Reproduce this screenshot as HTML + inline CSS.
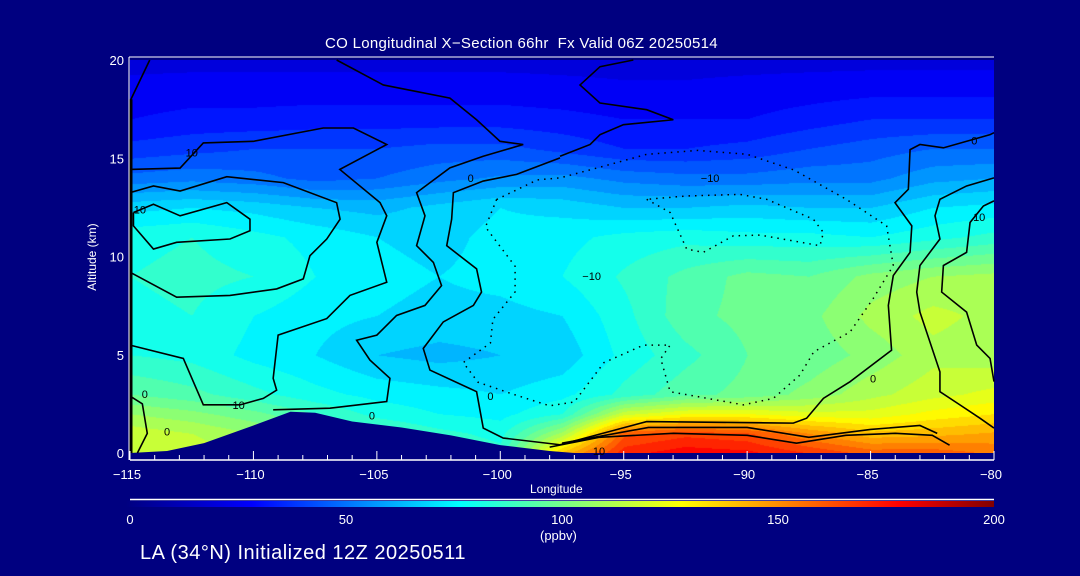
<!DOCTYPE html>
<html><head><meta charset="utf-8">
<style>
html,body{margin:0;padding:0;background:#000080;}
#wrap{position:relative;width:1080px;height:576px;background:#000080;overflow:hidden;font-family:"Liberation Sans",sans-serif;color:#fff;}
.t{position:absolute;white-space:nowrap;color:#fff;}
</style></head>
<body>
<div id="wrap">
<div class="t" style="left:325px;top:35px;font-size:15px;letter-spacing:0.3px;">CO Longitudinal X−Section 66hr&nbsp; Fx Valid 06Z 20250514</div>
<canvas id="field" width="864" height="393" style="position:absolute;left:130px;top:60px;"></canvas>
<svg id="ov" width="1080" height="576" style="position:absolute;left:0;top:0;"></svg>
<div class="t" style="left:42px;top:250px;width:100px;text-align:center;font-size:12px;transform:rotate(-90deg);">Altitude (km)</div>
<div class="t" style="left:530px;top:482px;font-size:12px;">Longitude</div>
<div class="t" style="left:540px;top:528px;font-size:13px;">(ppbv)</div>
<div class="t" style="left:140px;top:542px;font-size:20px;letter-spacing:0.5px;">LA (34°N) Initialized 12Z 20250511</div>
</div>
<script>
const lons=[-115,-112.5,-110,-107.5,-105,-102.5,-100,-97.5,-95,-92.5,-90,-87.5,-85,-82.5,-80];
const alts=[0,1,2,3,5,7,9,11,12.5,14,15.5,17,18.5,20];
const co0=[120,118,112,108,100,90,86,140,172,178,176,168,160,160,155];
const co1=[118,114,108,100,92,86,82,110,160,166,163,150,140,142,145];
const co2=[108,104,98,90,82,78,76,84,118,126,126,122,122,128,132];
const co3=[96,92,86,80,76,74,72,76,86,94,98,104,112,118,122];
const co5=[84,82,76,72,66,64,66,68,80,88,96,98,104,112,110];
const co7=[82,84,78,74,72,70,70,72,82,94,98,100,110,116,112];
const co9=[84,86,84,78,74,72,74,78,85,92,98,96,104,108,110];
const co11=[82,84,80,76,72,70,74,76,80,82,80,80,78,82,86];
const co12=[70,72,70,66,64,68,72,70,66,66,68,66,66,72,74];
const co14=[50,52,50,46,48,52,55,56,52,50,50,52,52,58,60];
const co15=[38,40,42,42,42,44,44,40,36,36,38,42,45,48,48];
const co17=[30,32,32,33,33,33,33,32,30,30,30,33,36,36,36];
const co18=[26,27,27,27,27,27,27,26,25,25,26,27,28,28,28];
const co20=[22,22,22,22,22,22,22,22,22,22,22,22,22,22,22];
const rows=[co0,co1,co2,co3,co5,co7,co9,co11,co12,co14,co15,co17,co18,co20];
const terrain=[[-115,0],[-113.5,0.1],[-112,0.5],[-110,1.4],[-108.5,2.1],[-107.5,2.05],[-106,1.6],[-104,1.3],[-102,0.9],[-100,0.4],[-98,0.1],[-97,0],[-80,0]];
const cbTicks=[0,50,100,150,200];
const xTicks=[-115,-110,-105,-100,-95,-90,-85,-80];
const yTicks=[0,5,10,15,20];
const contoursSolid=[
[[-115,14.43],[-112.97,14.5],[-112.03,15.78],[-110,15.86],[-107.17,16.54],[-105.95,16.54],[-104.6,15.7],[-106.5,14.43],[-104.87,12.74],[-104.6,12.07],[-105,10.72],[-104.6,8.69],[-106.09,8.02],[-107.03,6.84],[-109,6],[-109.2,3.8],[-109.06,3.2],[-109.6,2.78],[-110.54,2.45],[-112.03,2.45],[-112.84,4.81],[-115,5.49]],
[[-115,13.25],[-114.05,13.59],[-112.97,13.33],[-111.08,14.06],[-108.79,13.76],[-106.63,12.74],[-106.49,11.9],[-107.03,10.89],[-107.71,10.04],[-107.98,8.86],[-109.06,8.35],[-110.95,8.02],[-113.11,7.93],[-115,9.2]],
[[-114.86,12.24],[-114.05,12.66],[-112.97,12.07],[-111.08,12.74],[-110.14,11.9],[-110.14,11.31],[-110.95,10.89],[-113.11,10.72],[-114.05,10.38],[-114.86,11.56],[-114.86,12.24]],
[[-106.63,20],[-104.74,18.73],[-102.04,18.06],[-100.96,16.96],[-100.01,15.86],[-99.07,15.7],[-100.69,15.1],[-102.04,14.51],[-103.39,13.25],[-103.05,12.07],[-103.39,10.55],[-102.71,9.7],[-102.38,8.52],[-103.05,7.51],[-104.2,7],[-105,6],[-105.82,5.74],[-105.28,4.73],[-104.47,3.8],[-104.6,2.62],[-106.9,2.28],[-109.2,2.2]],
[[-97.58,15.02],[-99.34,14.18],[-100.69,13.84],[-101.9,13.25],[-101.97,11.9],[-102.17,10.55],[-100.96,9.37],[-100.76,8.19],[-101.09,7.51],[-102.31,6.67],[-103.12,5.32],[-102.85,4.22],[-100.96,3.12],[-100.69,1.27],[-99.88,0.76],[-97.58,0.42],[-94.07,1.6],[-88.13,1.52],[-87.59,1.77],[-86.91,2.78],[-85.83,3.63],[-84.15,5.23],[-84.28,7.51],[-84.08,9.03],[-83.4,10.21],[-83.33,11.56],[-84.01,12.74],[-83.47,13.42],[-83.4,15.44],[-83,15.7],[-82.05,15.53],[-80.16,16.2],[-80,16.3]],
[[-80,14],[-81.11,13.59],[-82.19,12.91],[-82.39,12.07],[-82.19,10.89],[-83,9.54],[-83.13,8.19],[-83,7.17],[-82.19,4.13],[-82.19,3.12],[-81.38,2.45],[-80.57,1.77],[-80,1.27]],
[[-80,12.83],[-80.43,12.57],[-80.97,11.73],[-81.11,10.21],[-82.05,9.54],[-82.12,8.19],[-81.11,7.17],[-80.7,5.49],[-80.16,4.81],[-80,3.63]],
[[-97.58,15.1],[-96.36,15.7],[-95.96,16.2],[-95.01,16.71],[-92.99,16.96],[-94.07,17.47],[-95.96,17.81],[-96.77,18.73],[-95.96,19.66],[-94.61,20]],
[[-98,0.3],[-96,0.8],[-93,1.0],[-90,0.9],[-88,0.5],[-86,0.9],[-84,1.0],[-82.5,0.9],[-81.8,0.4]],
[[-97.5,0.5],[-94,1.3],[-90,1.3],[-87.5,0.8],[-85,1.2],[-83,1.4],[-82.3,1.0]],
[[-115,2.9],[-114.5,2.5],[-114.3,1.0],[-114.7,0]],
[[-115,17.9],[-114.2,20]]
];
const contoursDotted=[
[[-100.15,12.9],[-98.5,13.9],[-97.58,14],[-95.8,14.6],[-94.07,15.2],[-92,15.4],[-90,15.2],[-88.1,14.4],[-85.97,12.9],[-84.35,11.56],[-84.08,9.54],[-84.9,7.85],[-85.83,6.16],[-87.3,5.15],[-87.86,3.97],[-88.94,2.78],[-90.15,2.45],[-93.12,3.12],[-93.5,4.8],[-93.12,5.49],[-94.2,5.49],[-95.8,4.6],[-97,2.6],[-98,2.4],[-99.5,3],[-100.9,3.6],[-101.5,4.6],[-100.4,5.6],[-100.3,6.8],[-99.4,8.2],[-99.4,9.5],[-100.6,11.5],[-100.15,12.9]],
[[-94.07,12.91],[-93.12,12.24],[-92.45,10.38],[-91.78,10.21],[-90.56,11.05],[-89.48,11.09],[-87.05,10.55],[-86.91,11.22],[-87.32,11.9],[-89.21,12.91],[-90.29,13.16],[-92.45,13.08],[-94.07,12.91]]
];
const contourLabels=[[-112.5,15.3,"10"],[-114.6,12.4,"10"],[-110.6,2.45,"10"],[-101.2,14.0,"0"],[-105.2,1.9,"0"],[-100.4,2.9,"0"],[-114.4,3.0,"0"],[-113.5,1.1,"0"],[-91.5,14.0,"−10"],[-96.3,9.0,"−10"],[-84.9,3.8,"0"],[-80.8,15.9,"0"],[-80.6,12.0,"10"],[-96,0.1,"10"]];

const X0=130,X1=994,Y0=453,Y1=60;
function xs(l){return X0+(l+115)/35*(X1-X0);}
function ys(a){return Y0-a/20*(Y0-Y1);}
const stops=[[0,0,0,128],[29,0,0,255],[77,0,255,255],[128,255,255,0],[178,255,0,0],[200,128,0,0]];
function cmap(v){v=Math.max(0,Math.min(200,v));for(let i=1;i<stops.length;i++){if(v<=stops[i][0]){const a=stops[i-1],b=stops[i],t=(v-a[0])/(b[0]-a[0]);return [a[1]+t*(b[1]-a[1]),a[2]+t*(b[2]-a[2]),a[3]+t*(b[3]-a[3])];}}return [128,0,0];}
function val(lon,alt){
 let i=0;while(i<lons.length-2&&lon>lons[i+1])i++;
 let j=0;while(j<alts.length-2&&alt>alts[j+1])j++;
 const tx=Math.max(0,Math.min(1,(lon-lons[i])/(lons[i+1]-lons[i])));
 const ty=Math.max(0,Math.min(1,(alt-alts[j])/(alts[j+1]-alts[j])));
 const a=rows[j][i],b=rows[j][i+1],c=rows[j+1][i],d=rows[j+1][i+1];
 return (a*(1-tx)+b*tx)*(1-ty)+(c*(1-tx)+d*tx)*ty;
}
const cv=document.getElementById('field'),ctx=cv.getContext('2d');
const img=ctx.createImageData(cv.width,cv.height);
for(let py=0;py<cv.height;py++){const alt=(Y0-(py+60))/(Y0-Y1)*20;
 for(let px=0;px<cv.width;px++){const lon=-115+(px)/(X1-X0)*35;
  let v=val(lon,alt);v=Math.floor(v/6)*6+3;const c=cmap(v);const k=(py*cv.width+px)*4;
  img.data[k]=c[0];img.data[k+1]=c[1];img.data[k+2]=c[2];img.data[k+3]=255;}}
ctx.putImageData(img,0,0);

const NS='http://www.w3.org/2000/svg',svg=document.getElementById('ov');
function mk(tag,attrs){const e=document.createElementNS(NS,tag);for(const k in attrs)e.setAttribute(k,attrs[k]);svg.appendChild(e);return e;}
let tp=terrain.map(p=>xs(p[0])+','+ys(p[1])).join(' ')+' '+X1+','+(Y0+2)+' '+X0+','+(Y0+2);
const ter=mk('polygon',{points:tp,fill:'#000080'});


contoursSolid.forEach(c=>{const e=mk('polyline',{points:c.map(p=>xs(p[0])+','+ys(p[1])).join(' '),fill:'none',stroke:'#000','stroke-width':1.6});
 
 });
contoursDotted.forEach(c=>{const e=mk('polyline',{points:c.map(p=>xs(p[0])+','+ys(p[1])).join(' '),fill:'none',stroke:'#000','stroke-width':1.5,'stroke-dasharray':'1.5 5'});
 
 });
contourLabels.forEach(l=>{const e=mk('text',{x:xs(l[0]),y:ys(l[1])+4,'font-size':11,fill:'#000','text-anchor':'middle','font-family':'Liberation Sans, sans-serif'});e.textContent=l[2];
 
 });
const leftEdge=mk('line',{x1:X0+1,y1:ys(18),x2:X0+1,y2:Y0,stroke:'#000','stroke-width':3});


const topBorder=mk('line',{x1:X0-1,y1:57,x2:X1,y2:57,stroke:'#fff','stroke-width':1});


const xAxisLine=mk('line',{x1:X0,y1:460,x2:X1,y2:460,stroke:'#fff','stroke-width':1.5});


const yAxisLine=mk('line',{x1:X0-1,y1:57,x2:X0-1,y2:460,stroke:'#fff','stroke-width':1});


for(let l=-115;l<=-80;l++){const maj=(l%5===0);const e=mk('line',{x1:xs(l),y1:460,x2:xs(l),y2:maj?451:455,stroke:'#fff','stroke-width':1});
 
 }
xTicks.forEach(l=>{const e=mk('text',{x:xs(l)-3,y:479,'font-size':13,fill:'#fff','text-anchor':'middle','font-family':'Liberation Sans, sans-serif'});e.textContent=(l<0?'−':'')+Math.abs(l);
 
 });
yTicks.forEach(a=>{const e=mk('text',{x:124,y:ys(a)+5,'font-size':13,fill:'#fff','text-anchor':'end','font-family':'Liberation Sans, sans-serif'});e.textContent=a;
 
 });
const defs=mk('defs',{});const grad=document.createElementNS(NS,'linearGradient');grad.setAttribute('id','cb');defs.appendChild(grad);
stops.forEach(s=>{const st=document.createElementNS(NS,'stop');st.setAttribute('offset',(s[0]/200*100)+'%');st.setAttribute('stop-color','rgb('+s[1]+','+s[2]+','+s[3]+')');grad.appendChild(st);});
const cbLine=mk('line',{x1:X0,y1:499.5,x2:X1,y2:499.5,stroke:'#fff','stroke-width':1.5});


const cbRect=mk('rect',{x:X0-4,y:501,width:X1-X0+4,height:6,fill:'url(#cb)'});


cbTicks.forEach(v=>{const e=mk('text',{x:X0+v/200*(X1-X0),y:524,'font-size':13,fill:'#fff','text-anchor':'middle','font-family':'Liberation Sans, sans-serif'});e.textContent=v;
 
 });
</script>
</body></html>
